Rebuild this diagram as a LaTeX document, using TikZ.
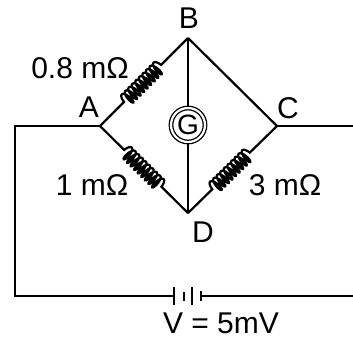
\documentclass[tikz,border=0pt]{standalone}
\usepackage{fontspec}
\setmainfont{Liberation Sans}
\usetikzlibrary{positioning, decorations.pathmorphing}
\tikzstyle{wire} = [draw, line width=2.2pt]
\tikzstyle{resistor} = [wire, decorate, decoration={coil, amplitude=7pt,
    segment length=5pt, aspect=0.35, pre length=34pt, post length=34pt}]
\tikzstyle{lbl} = [inner sep=0pt, font=\fontsize{30}{32}\selectfont]
\tikzstyle{galvo} = [circle, draw, double, line width=1.3pt, double distance=2.2pt,
    minimum size=34pt, inner sep=0pt, font=\fontsize{28}{30}\selectfont]

\begin{document}
\begin{tikzpicture}[x=1pt, y=-1pt]
            \useasboundingbox (0,0) rectangle (353,338);

            \coordinate (A) at (100,126);
            \coordinate (B) at (188,38);
            \coordinate (C) at (277,126);
            \coordinate (D) at (188,213);
            \node[galvo] (G) at (188,125) {G};

            \node[lbl] (labelA) at (89,107) {A};
            \node[lbl] (labelB) at (189,18) {B};
            \node[lbl] (labelC) at (288,108) {C};
            \node[lbl] (labelD) at (203,232) {D};
            \node[lbl] (rAB) at (80,68) {0.8 mΩ};
            \node[lbl] (rAD) at (92,185) {1 mΩ};
            \node[lbl] (rDC) at (285,185) {3 mΩ};
            \node[lbl] (volt) at (221,323) {V = 5mV};

            % outer wires
            \coordinate (topleft) at (15,126);
            \coordinate (botleft) at (15,296);
            \coordinate (batleft) at (174,296);
            \coordinate (batright) at (201,296);
            \coordinate (botright) at (353,296);
            \coordinate (right) at (353,126);

            \path [resistor] (A) -- (B);
            \path [resistor] (A) -- (D);
            \path [resistor] (D) -- (C);
            \path [wire] (B) -- (C);
            \path [wire] (B) -- (G);
            \path [wire] (G) -- (D);

            \path [wire] (A) -- (topleft) -- (botleft) -- (batleft);
            \path [wire] (batright) -- (botright);
            \path [wire] (C) -- (right);

            % battery plates
            \foreach \x/\h in {174/9, 184/4.5, 192/9, 201/5}
                \path [wire] (\x,296-\h) -- (\x,296+\h);
      \end{tikzpicture}
\end{document}
